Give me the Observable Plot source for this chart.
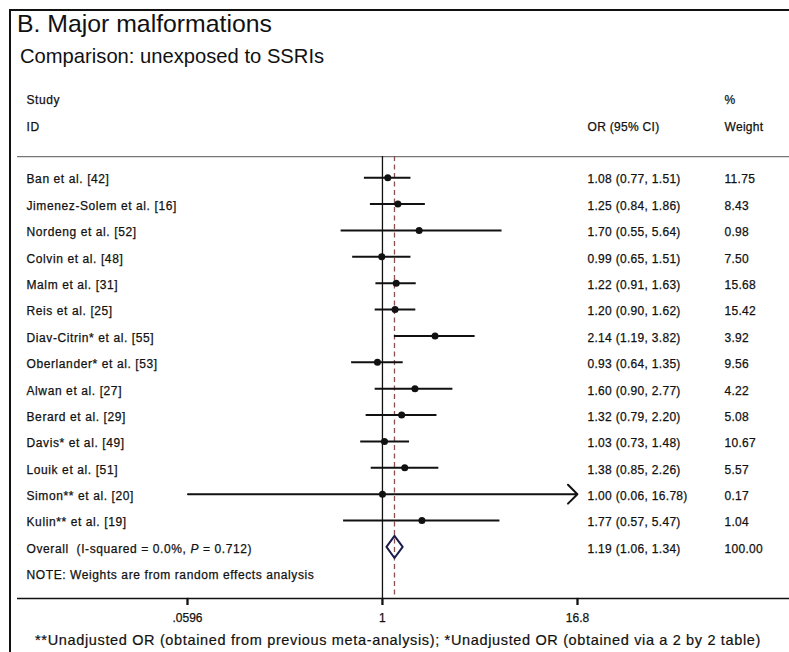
<!DOCTYPE html>
<html>
<head>
<meta charset="utf-8">
<script src="https://cdn.jsdelivr.net/npm/d3@7"></script>
<script src="https://cdn.jsdelivr.net/npm/@observablehq/plot@0.6"></script>
<style>
  body { margin: 0; background: #fff; }
  #wrap { position: relative; width: 789px; height: 652px; overflow: hidden;
          font-family: "Liberation Sans", Arial, sans-serif; color: #111; }
  #box { position: absolute; left: 9px; top: 9px; width: 800px; height: 660px;
         border-left: 2.5px solid #111; border-top: 2px solid #111; }
  #title { position: absolute; left: 17px; top: 12px; font-size: 24.8px; line-height: 1; white-space: nowrap; }
  #subtitle { position: absolute; left: 20px; top: 46px; font-size: 20.2px; line-height: 1; white-space: nowrap; }
  #footer { position: absolute; left: 0; width: 796px; text-align: center; top: 633px;
            font-size: 14.5px; letter-spacing: 0.65px; line-height: 1; white-space: nowrap; -webkit-text-stroke: 0.2px #111; }
  #chart { position: absolute; left: 0; top: 80px; }
</style>
</head>
<body>
<div id="wrap">
  <div id="box"></div>
  <div id="title">B. Major malformations</div>
  <div id="subtitle">Comparison: unexposed to SSRIs</div>
  <div id="chart"></div>
  <div id="footer">**Unadjusted OR (obtained from previous meta-analysis); *Unadjusted OR (obtained via a 2 by 2 table)</div>
</div>
<script>
// ---- data ----
const studies = [
  "Ban et al. [42]", "Jimenez-Solem et al. [16]", "Nordeng et al. [52]", "Colvin et al. [48]",
  "Malm et al. [31]", "Reis et al. [25]", "Diav-Citrin* et al. [55]", "Oberlander* et al. [53]",
  "Alwan et al. [27]", "Berard et al. [29]", "Davis* et al. [49]", "Louik et al. [51]",
  "Simon** et al. [20]", "Kulin** et al. [19]"
];
const oddsRatios = [1.08, 1.25, 1.70, 0.99, 1.22, 1.20, 2.14, 0.93, 1.60, 1.32, 1.03, 1.38, 1.00, 1.77];
const ciLower    = [0.77, 0.84, 0.55, 0.65, 0.91, 0.90, 1.19, 0.64, 0.90, 0.79, 0.73, 0.85, 0.06, 0.57];
const ciUpper    = [1.51, 1.86, 5.64, 1.51, 1.63, 1.62, 3.82, 1.35, 2.77, 2.20, 1.48, 2.26, 16.78, 5.47];
const weights    = ["11.75", "8.43", "0.98", "7.50", "15.68", "15.42", "3.92", "9.56", "4.22", "5.08", "10.67", "5.57", "0.17", "1.04"];

const overallLabel = "Overall  (I-squared = 0.0%, P = 0.712)";
const overallOR = 1.19, overallLower = 1.06, overallUpper = 1.34, overallWeight = "100.00";
const noteText = "NOTE: Weights are from random effects analysis";

const headerStudy = ["Study", "ID"];
const headerCI = "OR (95% CI)";
const headerWeight = ["%", "Weight"];

const xTicks = [0.0596, 1, 16.8];
const xTickLabels = [".0596", "1", "16.8"];

// ---- derived tables ----
const fmt = v => v.toFixed(2);
const rows = studies.map((s, i) => ({
  row: i, label: s, or: oddsRatios[i], lo: ciLower[i], hi: ciUpper[i],
  ci: `${fmt(oddsRatios[i])} (${fmt(ciLower[i])}, ${fmt(ciUpper[i])})`, w: weights[i]
}));
const overallRow = studies.length;
const noteRow = studies.length + 1;
const overall = {row: overallRow, label: overallLabel, or: overallOR, lo: overallLower, hi: overallUpper,
  ci: `${fmt(overallOR)} (${fmt(overallLower)}, ${fmt(overallUpper)})`, w: overallWeight};

const labelRows = [
  {row: -3, label: headerStudy[0]}, {row: -2, label: headerStudy[1]},
  ...rows, overall, {row: noteRow, label: noteText}
];
const ciRows = [{row: -2, ci: headerCI}, ...rows, overall];
const weightRows = [{row: -3, w: headerWeight[0]}, {row: -2, w: headerWeight[1]}, ...rows, overall];

const sepRow = -0.8;            // header separator
const axisRow = noteRow + 0.95; // axis baseline
const tickLen = 0.27;           // tick length in row units
const halfDiamond = 0.42;
const diamond = [
  {x: overallLower, y: overallRow}, {x: overallOR, y: overallRow - halfDiamond},
  {x: overallUpper, y: overallRow}, {x: overallOR, y: overallRow + halfDiamond},
  {x: overallLower, y: overallRow}
];
const tickRows = xTicks.map((t, i) => ({x: t, y1: axisRow, y2: axisRow + tickLen, label: xTickLabels[i]}));

const arrowRows = rows.filter(d => d.hi > 10);
const plainRows = rows.filter(d => d.hi <= 10);

const textStyle = {fontSize: 12, fill: "#111", stroke: "#111", strokeWidth: 0.25,
                   lineAnchor: "middle", dy: 2, textAnchor: "start"};

const chart = Plot.plot({
  width: 789,
  height: 548,
  marginLeft: 187,
  marginRight: 212,
  marginTop: 18,
  marginBottom: 23,
  style: {fontFamily: "'Liberation Sans', Arial, sans-serif", fontSize: "12px", color: "#111", background: "transparent", overflow: "visible"},
  x: {type: "log", domain: [xTicks[0], xTicks[2]], axis: null},
  y: {domain: [-3, axisRow + tickLen], reverse: true, axis: null},
  marks: [
    Plot.ruleY([sepRow], {stroke: "#777", strokeWidth: 1.3, insetLeft: -170, insetRight: -212}),
    Plot.ruleY([axisRow], {stroke: "#111", strokeWidth: 1.5, insetLeft: -170, insetRight: -212}),
    Plot.tickX(tickRows, {x: "x", insetTop: 500, stroke: "#111", strokeWidth: 1.8}),
    Plot.ruleX(tickRows, {x: "x", y1: "y1", y2: "y2", stroke: "#111", strokeWidth: 1.8}),
    Plot.text(tickRows, {x: "x", y: "y1", text: "label", dy: 20, fontSize: 12,
                         fill: "#111", stroke: "#111", strokeWidth: 0.25, textAnchor: "middle", lineAnchor: "middle"}),
    Plot.ruleX([1], {y1: sepRow, y2: axisRow, stroke: "#111", strokeWidth: 1.3}),
    Plot.ruleX([overallOR], {y1: sepRow, y2: axisRow, stroke: "#8a5050", strokeWidth: 1.3, strokeDasharray: "5,3.5"}),
    Plot.ruleY(plainRows, {y: "row", x1: "lo", x2: "hi", stroke: "#111", strokeWidth: 2}),
    Plot.arrow(arrowRows, {x1: "lo", x2: "hi", y1: "row", y2: "row", stroke: "#111", strokeWidth: 2,
                           headAngle: 90, headLength: 10}),
    Plot.dot(rows, {x: "or", y: "row", r: 3.5, fill: "#111", stroke: null}),
    Plot.line(diamond, {x: "x", y: "y", stroke: "#1c1c4c", strokeWidth: 2, fill: "none"}),
    Plot.text(labelRows, {y: "row", text: "label", frameAnchor: "left", dx: -161, ...textStyle}),
    Plot.text(ciRows, {y: "row", text: "ci", frameAnchor: "right", dx: 10, ...textStyle}),
    Plot.text(weightRows, {y: "row", text: "w", frameAnchor: "right", dx: 147, ...textStyle})
  ]
});

// letter-spacing for study labels, italic P in the overall label
const labelSet = new Set(labelRows.map(d => d.label));
const ciSet = new Set(ciRows.map(d => d.ci).concat(weightRows.map(d => d.w)));
chart.querySelectorAll("text").forEach(t => {
  const s = t.textContent;
  if (labelSet.has(s)) t.style.letterSpacing = "0.6px";
  else if (ciSet.has(s)) t.style.letterSpacing = "0.3px";
  if (s === overallLabel) {
    const [a, b] = overallLabel.split("P =");
    t.textContent = "";
    const ns = "http://www.w3.org/2000/svg";
    const t1 = document.createElementNS(ns, "tspan"); t1.textContent = a;
    const t2 = document.createElementNS(ns, "tspan"); t2.textContent = "P"; t2.setAttribute("font-style", "italic");
    const t3 = document.createElementNS(ns, "tspan"); t3.textContent = " =" + b;
    t.append(t1, t2, t3);
    t.style.whiteSpace = "pre";
  }
});

document.getElementById("chart").appendChild(chart);
</script>
</body>
</html>
